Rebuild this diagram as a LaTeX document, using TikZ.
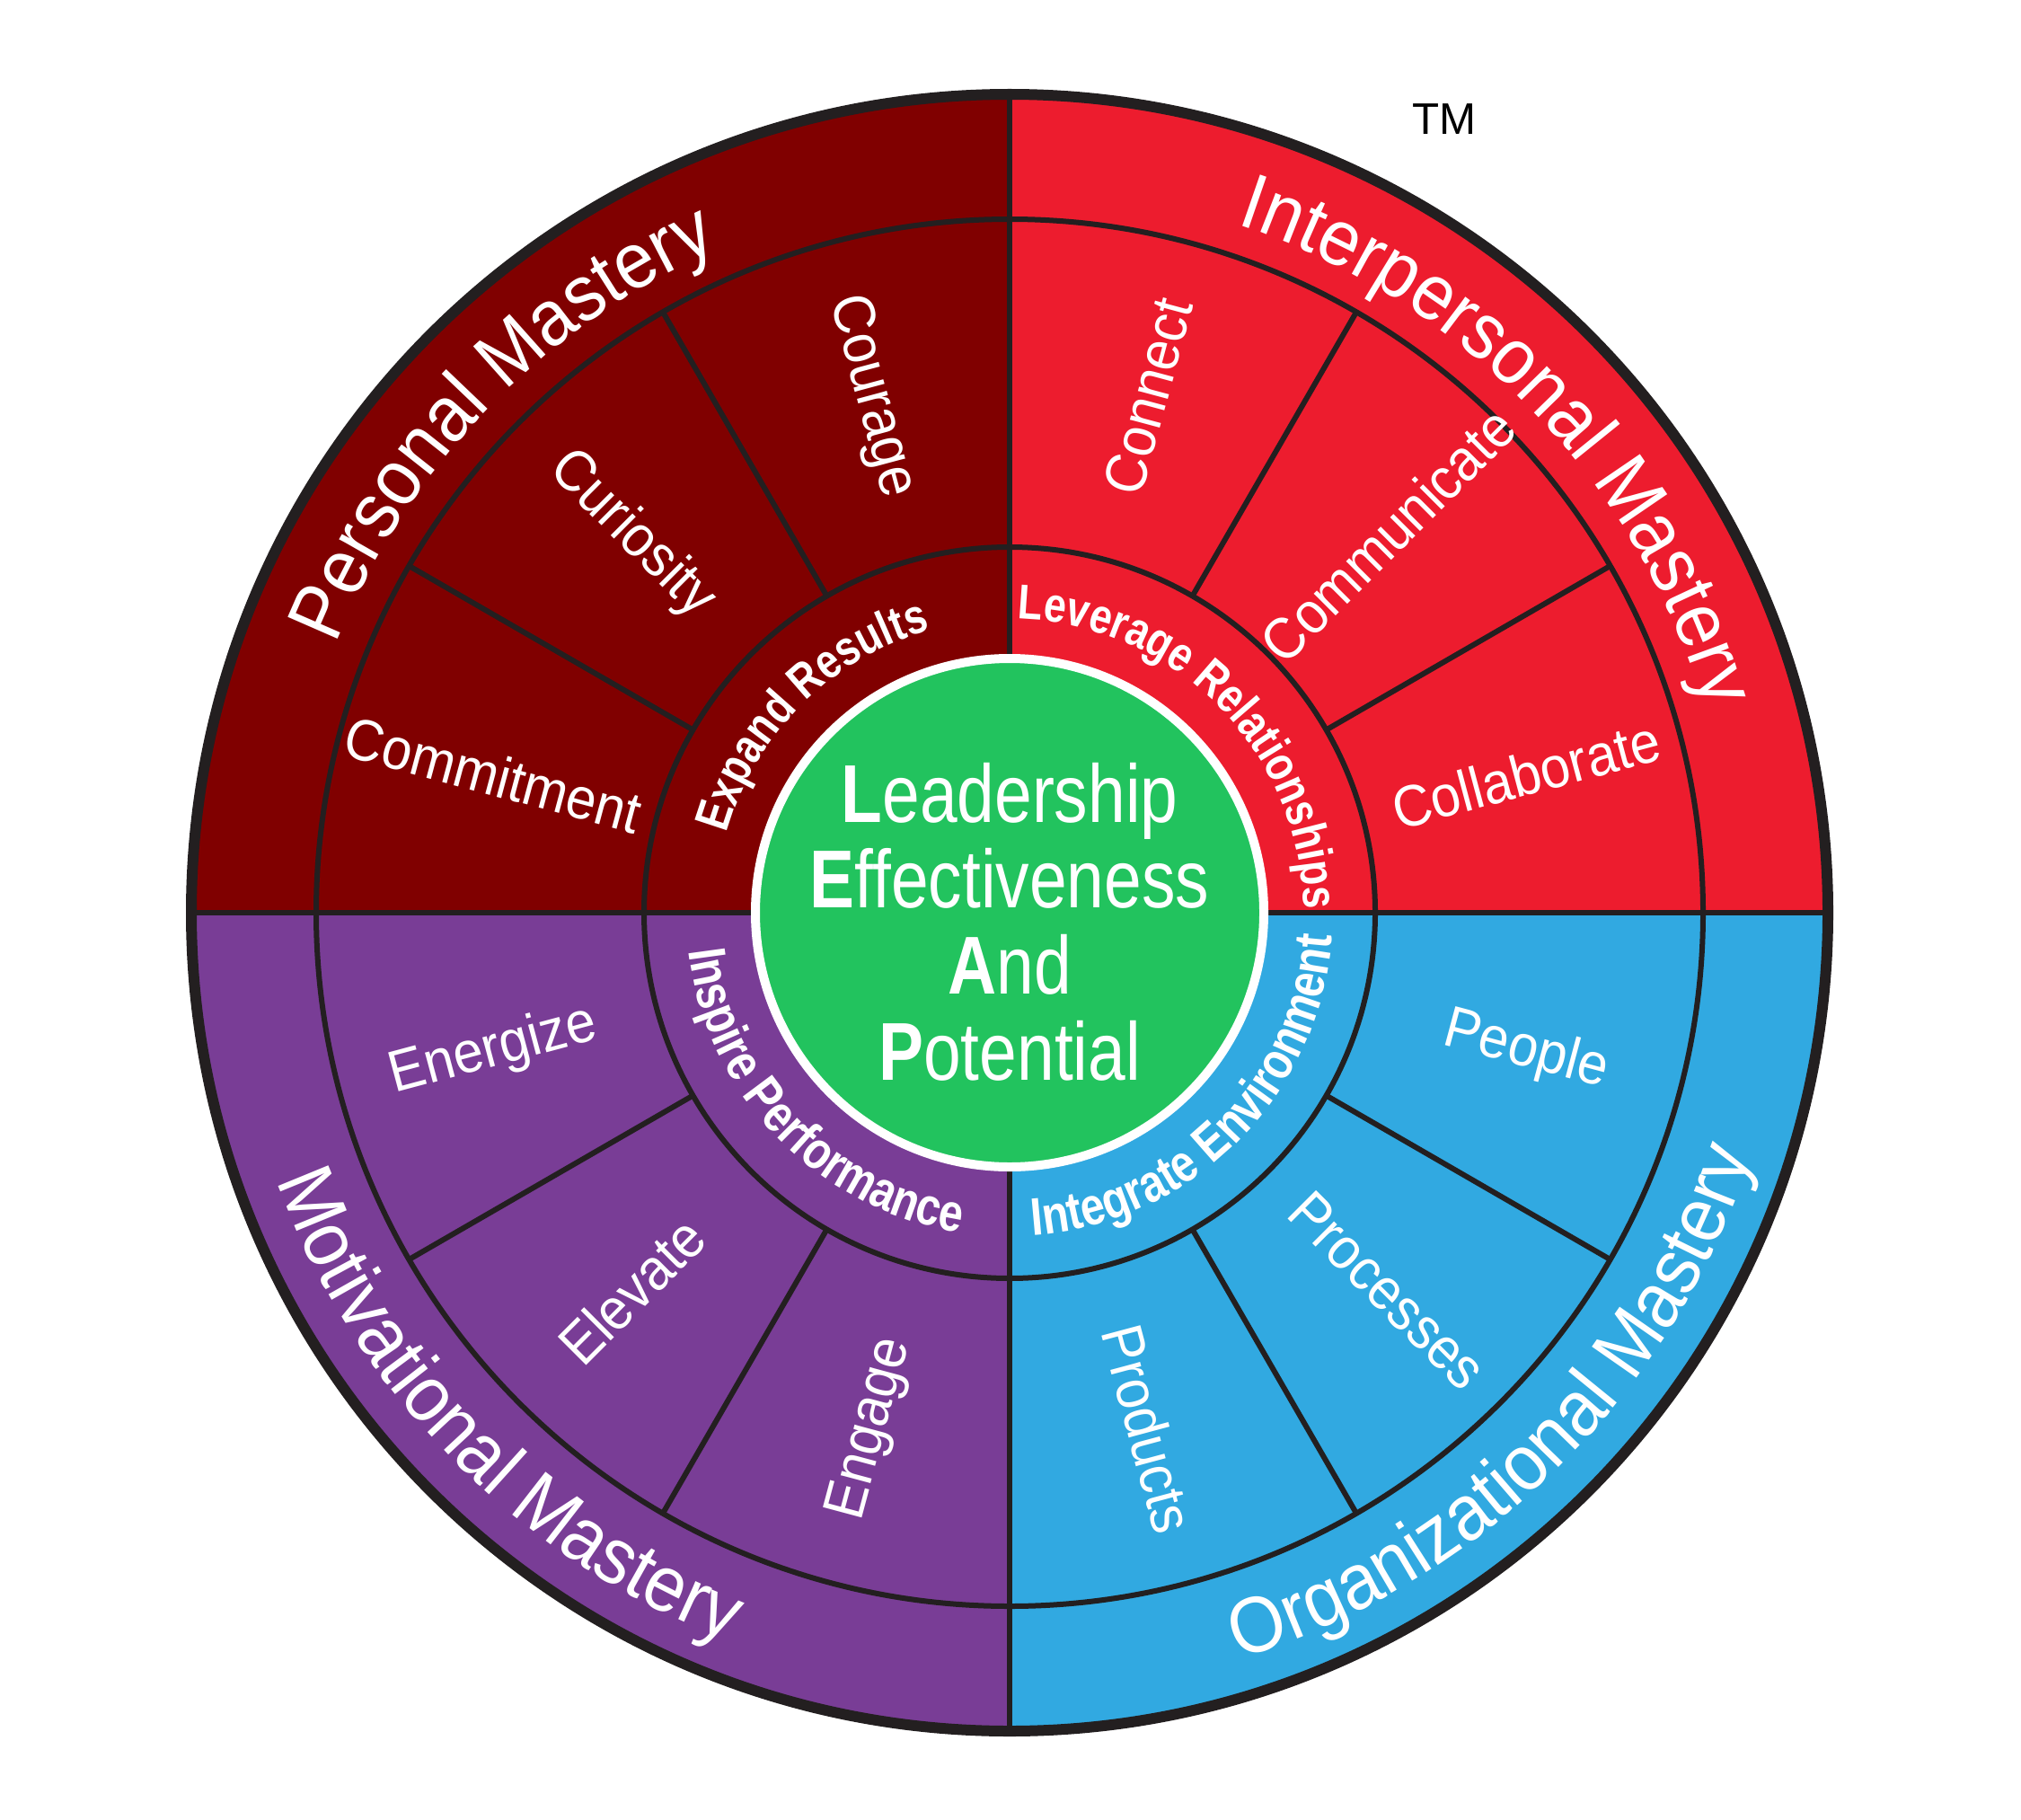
\documentclass[tikz,border=0pt]{standalone}
\usepackage{fontspec}
\setmainfont{Liberation Sans}
\newfontfamily\wheelfont[FakeStretch=0.92]{Liberation Sans}
\newfontfamily\condfont[FakeStretch=0.82]{Liberation Sans}
\usetikzlibrary{calc,decorations.text}

\definecolor{personalred}{RGB}{128,0,0}
\definecolor{interred}{RGB}{237,28,46}
\definecolor{orgblue}{RGB}{49,169,225}
\definecolor{motivpurple}{RGB}{121,61,150}
\definecolor{leapgreen}{RGB}{34,195,94}
\definecolor{rimgray}{RGB}{35,31,32}

\newcommand{\wheelRim}{9.11}
\newcommand{\wheelMid}{7.72}
\newcommand{\wheelIn}{4.07}
\newcommand{\masteryfont}{\wheelfont\fontsize{25}{30}\selectfont}
\newcommand{\areafont}{\condfont\bfseries\fontsize{15.5}{18}\selectfont}
\newcommand{\lowareafont}{\condfont\bfseries\fontsize{16.8}{19}\selectfont}

\tikzset{
  divider/.style={draw=rimgray, line width=0.6mm},
  rim/.style={draw=rimgray, line width=1.2mm},
  itemlabel/.style={text=white, inner sep=0pt, font=\wheelfont\fontsize{18.5}{22}\selectfont},
  coretext/.style={text=white, align=center, inner sep=0pt, font=\condfont\fontsize{26}{27.2}\selectfont},
  masterytext/.style={decorate, decoration={text along path, text align=center,
      text color=white, text={|\masteryfont|#1}}},
  areatext/.style={decorate, decoration={text along path, text align=center,
      text color=white, text={|\areafont|#1}}},
  lowareatext/.style={decorate, decoration={text along path, text align=center,
      text color=white, text={|\lowareafont|#1}}},
}

\begin{document}
\begin{tikzpicture}
    \useasboundingbox (0,0) rectangle (22.5,20.25);
    \coordinate (C) at (11.24,10.09);

    % Quadrants
    \foreach \a/\col in {0/interred, 90/personalred, 180/motivpurple, 270/orgblue}
        \fill[\col] (C) -- ++(\a:\wheelRim) arc[start angle=\a, end angle=\a+90, radius=\wheelRim] -- cycle;

    % Quadrant borders
    \foreach \a in {0,90,180,270}
        \draw[divider] (C) -- ++(\a:\wheelRim);

    % Sub-sectors of the middle ring
    \foreach \a in {30,60,120,150,210,240,300,330}
        \draw[divider] ($(C)+(\a:\wheelIn)$) -- ($(C)+(\a:\wheelMid)$);

    % Rings
    \draw[divider] (C) circle[radius=\wheelMid];
    \draw[divider] (C) circle[radius=\wheelIn];
    \draw[rim] (C) circle[radius=\wheelRim];

    % Core
    \node[circle, fill=leapgreen, draw=white, line width=1mm, minimum size=5.66cm, inner sep=0pt] (core) at (C) {};
    \node[coretext] (leap) at ($(C)+(0,-0.1)$)
        {{\bfseries L}eadership\\{\bfseries E}ffectiveness\\{\bfseries A}nd\\{\bfseries P}otential};

    % Outer ring labels
    \path[masterytext=Personal Mastery] ($(C)+(179:8.07)$) arc[start angle=179, end angle=93, radius=8.07];
    \path[masterytext=Interpersonal Mastery] ($(C)+(88:8.07)$) arc[start angle=88, end angle=0, radius=8.07];
    \path[masterytext=Motivational Mastery] ($(C)+(182:8.69)$) arc[start angle=182, end angle=267, radius=8.69];
    \path[masterytext=Organizational Mastery] ($(C)+(272:8.69)$) arc[start angle=272, end angle=357, radius=8.69];

    % Middle ring items
    \foreach \a/\word in {105/Courage, 135/Curiosity, 165/Commitment, 195/Energize, 225/Elevate, 255/Engage}
        \node[itemlabel, rotate=\a+180] (\word) at ($(C)+(\a:5.95)$) {\word};
    \foreach \a/\word in {75/Connect, 45/Communicate, 15/Collaborate, -15/People, -45/Processes, -75/Products}
        \node[itemlabel, rotate=\a] (\word) at ($(C)+(\a:5.95)$) {\word};

    % Inner ring labels
    \path[areatext=Expand Results] ($(C)+(183:3.27)$) arc[start angle=183, end angle=87, radius=3.27];
    \path[areatext=Leverage Relationships] ($(C)+(94:3.27)$) arc[start angle=94, end angle=-5, radius=3.27];
    \path[lowareatext=Inspire Performance] ($(C)+(174:3.6)$) arc[start angle=174, end angle=274, radius=3.6];
    \path[lowareatext=Integrate Environment] ($(C)+(264:3.6)$) arc[start angle=264, end angle=366, radius=3.6];

    % Trademark
    \node[font=\fontsize{14}{16}\selectfont] (tm) at (16.08,18.92) {TM};
\end{tikzpicture}
\end{document}
